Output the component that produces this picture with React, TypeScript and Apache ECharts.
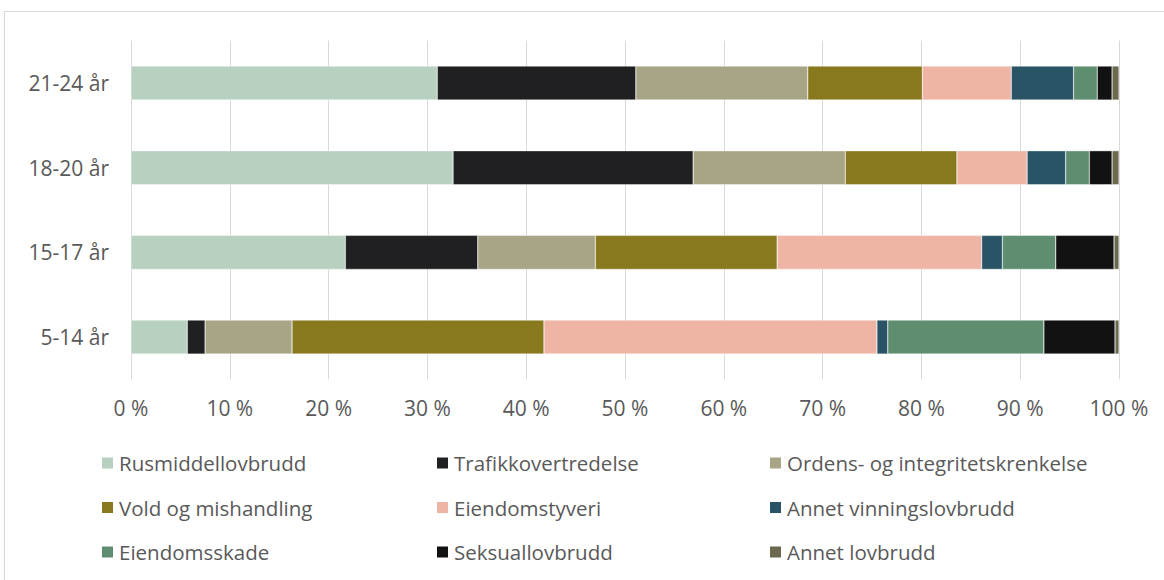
import React, { useEffect, useRef } from "react";
import * as echarts from "echarts";

const categories = ["5-14 år", "15-17 år", "18-20 år", "21-24 år"];
const seriesNames = [
  "Rusmiddellovbrudd",
  "Trafikkovertredelse",
  "Ordens- og integritetskrenkelse",
  "Vold og mishandling",
  "Eiendomstyveri",
  "Annet vinningslovbrudd",
  "Eiendomsskade",
  "Seksuallovbrudd",
  "Annet lovbrudd",
];
// values per series, in category order (5-14, 15-17, 18-20, 21-24), percent
const rusmiddel = [5.7, 21.7, 32.6, 31.0];
const trafikk = [1.8, 13.4, 24.3, 20.1];
const ordens = [8.8, 11.9, 15.4, 17.4];
const vold = [25.5, 18.4, 11.3, 11.6];
const eiendomstyveri = [33.7, 20.7, 7.1, 9.0];
const annetVinning = [1.1, 2.1, 3.9, 6.3];
const eiendomsskade = [15.8, 5.4, 2.4, 2.4];
const seksual = [7.2, 5.9, 2.3, 1.5];
const annetLovbrudd = [0.4, 0.5, 0.7, 0.7];
const xTicks = [0, 10, 20, 30, 40, 50, 60, 70, 80, 90, 100];

const seriesValues = [
  rusmiddel,
  trafikk,
  ordens,
  vold,
  eiendomstyveri,
  annetVinning,
  eiendomsskade,
  seksual,
  annetLovbrudd,
];
const colors = [
  "#b7d0c0",
  "#201f21",
  "#a8a586",
  "#88791e",
  "#eeb5a5",
  "#285466",
  "#5e8d70",
  "#121212",
  "#6b6a4e",
];

const FONT = "'Open Sans', sans-serif";
const TEXT_COLOR = "#595959";

export default function App() {
  const ref = useRef<HTMLDivElement>(null);
  useEffect(() => {
    const chart = echarts.init(ref.current!, null, { renderer: "svg" });
    const legendCommon = {
      orient: "vertical" as const,
      top: 452,
      padding: 0,
      itemWidth: 13,
      itemHeight: 13,
      itemGap: 22.5,
      icon: "rect",
      textStyle: { fontSize: 20.5, color: TEXT_COLOR, fontFamily: FONT, lineHeight: 22 },
    };
    chart.setOption({
      animation: false,
      color: colors,
      textStyle: { fontFamily: FONT },
      grid: { left: 131, right: 45, top: 40.7, bottom: 580 - 379.4, containLabel: false },
      xAxis: {
        type: "value",
        min: xTicks[0],
        max: xTicks[xTicks.length - 1],
        interval: 10,
        axisLine: { show: false },
        axisTick: { show: false },
        splitLine: { show: true, lineStyle: { color: "#d9d9d9", width: 1 } },
        axisLabel: {
          formatter: (v: number) => `${v} %`,
          fontSize: 21,
          color: TEXT_COLOR,
          fontFamily: FONT,
          margin: 18,
        },
      },
      yAxis: {
        type: "category",
        data: categories,
        axisLine: { show: false },
        axisTick: { show: false },
        axisLabel: { fontSize: 21, color: TEXT_COLOR, fontFamily: FONT, margin: 22 },
      },
      legend: [
        { ...legendCommon, left: 100, data: [seriesNames[0], seriesNames[3], seriesNames[6]] },
        { ...legendCommon, left: 435, data: [seriesNames[1], seriesNames[4], seriesNames[7]] },
        { ...legendCommon, left: 768, data: [seriesNames[2], seriesNames[5], seriesNames[8]] },
      ],
      graphic: [
        {
          type: "rect",
          shape: { x: 4.5, y: 11.5, width: 1200, height: 620 },
          style: { fill: "none", stroke: "#d9d9d9", lineWidth: 1.2 },
          silent: true,
        },
      ],
      series: seriesNames.map((name, i) => ({
        name,
        type: "bar",
        stack: "total",
        barWidth: 34,
        data: seriesValues[i],
        itemStyle: { color: colors[i], borderColor: "#ffffff", borderWidth: 0.4 },
      })),
    });
    return () => chart.dispose();
  }, []);
  return (
    <div
      ref={ref}
      style={{ position: "absolute", left: 0, top: 0, width: 1164, height: 580, background: "#fff" }}
    />
  );
}
